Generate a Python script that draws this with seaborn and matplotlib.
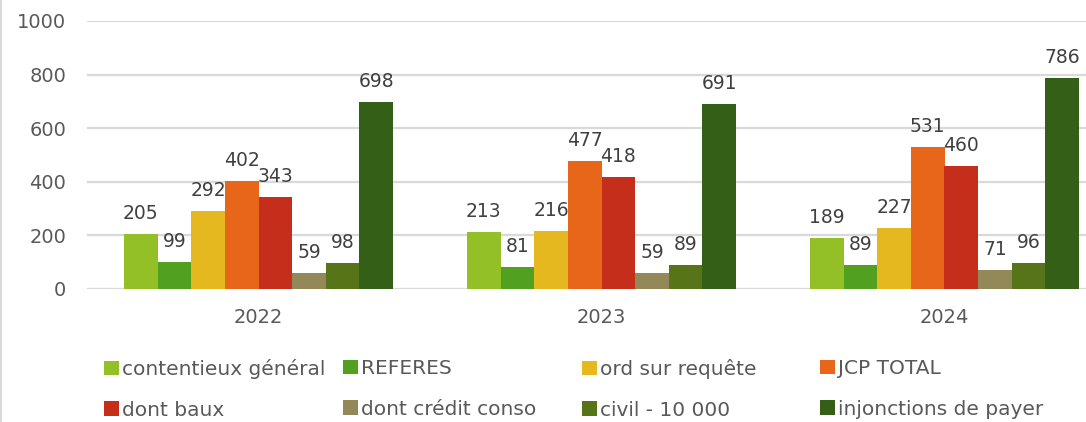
import matplotlib
matplotlib.use("Agg")
import matplotlib.pyplot as plt
from matplotlib.patches import Patch
from matplotlib.lines import Line2D
import pandas as pd
import seaborn as sns

# data
years = ["2022", "2023", "2024"]
series = ["contentieux général", "REFERES", "ord sur requête", "JCP TOTAL",
          "dont baux", "dont crédit conso", "civil - 10 000", "injonctions de payer"]
contentieux = [205, 213, 189]
referes = [99, 81, 89]
ord_requete = [292, 216, 227]
jcp_total = [402, 477, 531]
dont_baux = [343, 418, 460]
credit_conso = [59, 59, 71]
civil_10000 = [98, 89, 96]
injonctions = [698, 691, 786]
colors = ["#92C026", "#52A020", "#E5B820", "#E8661A",
          "#C42E1A", "#938858", "#577419", "#335F17"]

values = [contentieux, referes, ord_requete, jcp_total,
          dont_baux, credit_conso, civil_10000, injonctions]
rows = []
for name, vals in zip(series, values):
    for y, v in zip(years, vals):
        rows.append({"year": y, "serie": name, "value": v})
df = pd.DataFrame(rows)

sns.set_theme(style="white")
plt.rcParams["font.family"] = ["DejaVu Sans"]
text_col = "#595959"

fig = plt.figure(figsize=(10.86, 4.22), dpi=100)
ax = fig.add_axes([87 / 1086, 133 / 422, 3 * 343 / 1086, 268 / 422])

sns.barplot(data=df, x="year", y="value", hue="serie", hue_order=series,
            order=years, palette=colors, saturation=1, width=0.785, ax=ax,
            edgecolor="none", legend=False)

for cont in ax.containers:
    ax.bar_label(cont, padding=8, fontsize=13.5, color="#404040")

ax.set_xlim(-0.5, 2.5)
ax.set_ylim(0, 1000)
ax.set_yticks(range(0, 1001, 200))
ax.yaxis.grid(True, color="#D9D9D9", linewidth=1.6)
ax.set_axisbelow(True)
for s in ax.spines.values():
    s.set_visible(False)
ax.tick_params(axis="both", length=0, labelsize=14, labelcolor=text_col)
ax.tick_params(axis="y", pad=15)
ax.tick_params(axis="x", pad=14)
ax.set_xlabel("")
ax.set_ylabel("")

# legend: 4 columns of 2 entries, evenly spaced like the original
col_x = [104, 343, 582, 820]
for c in range(4):
    idx = [c, c + 4]
    handles = [Patch(facecolor=colors[i], edgecolor="none") for i in idx]
    fig.legend(handles, [series[i] for i in idx], loc="upper left",
               bbox_to_anchor=(col_x[c] / 1086, 1 - 359 / 422),
               frameon=False, borderpad=0, borderaxespad=0,
               handlelength=0.72, handleheight=0.72, handletextpad=0.15,
               labelspacing=1.07, fontsize=14.5, labelcolor=text_col)

# faint frame line on the left edge
fig.add_artist(Line2D([0.001, 0.001], [0, 1], color="#D9D9D9", linewidth=1.5,
                      transform=fig.transFigure))

fig.savefig("out.png", dpi=100)
